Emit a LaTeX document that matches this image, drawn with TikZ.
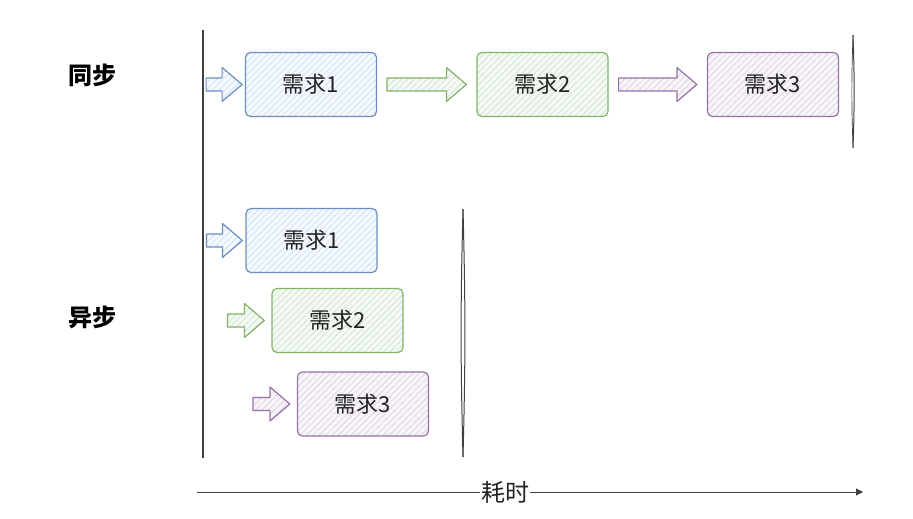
\documentclass[tikz,border=0pt]{standalone}
\usepackage{fontspec}
\setmainfont{Noto Sans CJK SC}
\usetikzlibrary{patterns.meta,calc,arrows.meta}
\definecolor{bstroke}{HTML}{6C8EBF}\definecolor{bfill}{HTML}{C9DCF7}
\definecolor{gstroke}{HTML}{82B366}\definecolor{gfill}{HTML}{C7E0C5}
\definecolor{pstroke}{HTML}{9673A6}\definecolor{pfill}{HTML}{D9CAE0}
\definecolor{txt}{HTML}{222222}
\tikzset{
  hatch/.style={preaction={fill=#1!18}, pattern={Lines[angle=45,distance=4.5pt,line width=0.8pt]}, pattern color=#1!85},
  reqbox/.style 2 args={draw=#1, line width=1.2pt, rounded corners=5pt, minimum width=131pt, minimum height=64pt, inner sep=0pt, font=\fontsize{22}{26}\selectfont, text=txt, hatch=#2},
  blockarr/.style 2 args={draw=#1, line width=1.2pt, line join=round, hatch=#2},
  rowlabel/.style={font=\fontsize{24}{28}\selectfont\bfseries, text=black},
  axisline/.style={draw=black!75, line width=1pt},
}
\newcommand\blockarrow[3]{%
  \draw[#3] let \p1=(#1), \p2=(#2) in
    (\x1,\y1+6.5pt) -- (\x2-20pt,\y1+6.5pt) -- (\x2-20pt,\y1+17pt) -- (\x2,\y1)
    -- (\x2-20pt,\y1-17pt) -- (\x2-20pt,\y1-6.5pt) -- (\x1,\y1-6.5pt) -- cycle;}
\begin{document}
\begin{tikzpicture}[x=1pt,y=-1pt]
\useasboundingbox (0,0) rectangle (913,519);
% row labels
\node[rowlabel] (sync) at (92,75) {同步};
\node[rowlabel] (async) at (92,317) {异步};
% left vertical line
\coordinate (l0) at (203,30); \coordinate (l1) at (203,458);
\draw[axisline, line width=1.2pt] (l0) -- (l1);
% synchronous row
\node[reqbox={bstroke}{bfill}] (s1) at (311,84.5) {需求1};
\node[reqbox={gstroke}{gfill}] (s2) at (542.5,84.5) {需求2};
\node[reqbox={pstroke}{pfill}] (s3) at (773,84.5) {需求3};
\coordinate (st0) at ($(s1.west)+(-3,0)$);
\coordinate (sf0) at ($(st0)+(-36,0)$);
\blockarrow{sf0}{st0}{blockarr={bstroke}{bfill}}
\coordinate (sf1) at ($(s1.east)+(10,0)$);
\coordinate (st1) at ($(s2.west)+(-10,0)$);
\blockarrow{sf1}{st1}{blockarr={gstroke}{gfill}}
\coordinate (sf2) at ($(s2.east)+(10,0)$);
\coordinate (st2) at ($(s3.west)+(-10,0)$);
\blockarrow{sf2}{st2}{blockarr={pstroke}{pfill}}
\coordinate (e0) at (853,35); \coordinate (e1) at (853,148);
\draw[axisline] (e0) to[bend left=2] (e1);
\draw[axisline, line width=0.7pt] (e0) to[bend right=2] (e1);
% asynchronous rows
\node[reqbox={bstroke}{bfill}] (a1) at (311.5,240.5) {需求1};
\node[reqbox={gstroke}{gfill}] (a2) at (337.5,320.5) {需求2};
\node[reqbox={pstroke}{pfill}] (a3) at (363,404) {需求3};
\coordinate (at1) at ($(a1.west)+(-3,0)$);
\coordinate (af1) at ($(at1)+(-36,0)$);
\blockarrow{af1}{at1}{blockarr={bstroke}{bfill}}
\coordinate (at2) at ($(a2.west)+(-7,0)$);
\coordinate (af2) at ($(at2)+(-37,0)$);
\blockarrow{af2}{at2}{blockarr={gstroke}{gfill}}
\coordinate (at3) at ($(a3.west)+(-7,0)$);
\coordinate (af3) at ($(at3)+(-37,0)$);
\blockarrow{af3}{at3}{blockarr={pstroke}{pfill}}
\coordinate (d0) at (463,209); \coordinate (d1) at (463,457);
\draw[axisline] (d0) to[bend left=1.5] (d1);
\draw[axisline] (d0) to[bend right=1.5] (d1);
% time axis
\coordinate (ax0) at (197,492); \coordinate (ax1) at (863,492);
\draw[axisline, -{Triangle[length=7pt,width=7pt]}] (ax0) -- node[pos=0.4625, fill=white, inner sep=1pt, text=txt, font=\fontsize{24}{28}\selectfont] (axlabel) {耗时} (ax1);
\end{tikzpicture}
\end{document}
